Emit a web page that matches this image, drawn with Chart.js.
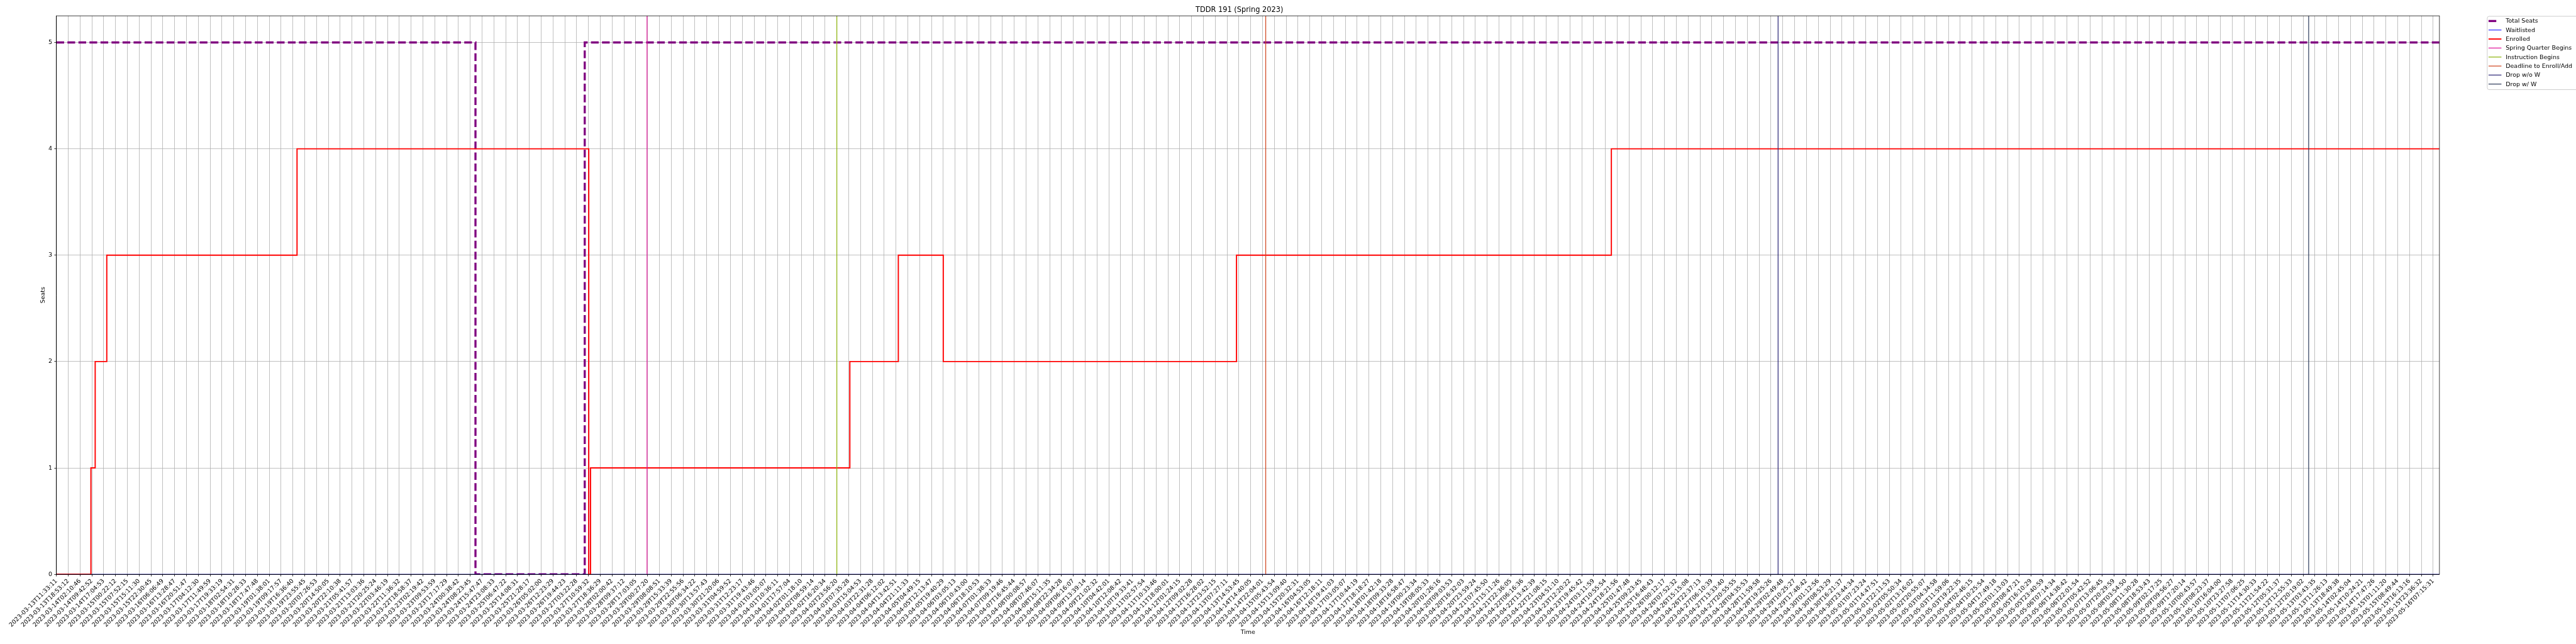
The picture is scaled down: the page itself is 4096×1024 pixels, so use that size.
<!DOCTYPE html>
<html lang="en">
<head>
    <meta charset="UTF-8">
    <title>TDDR 191 (Spring 2023)</title>
    <script src="https://cdn.jsdelivr.net/npm/chart.js"></script>
    <style>
        html, body { margin: 0; padding: 0; background: #fff; }
        #wrap { width: 4096px; height: 1024px; }
    </style>
</head>
<body>
    <div id="wrap"><canvas id="seatChart"></canvas></div>
    <script>
        // x tick labels, one per gridline (the axis is index based)
        const timeLabels = [
            '2023-03-13T11:33:11', '2023-03-13T18:53:12',
            '2023-03-14T02:10:46', '2023-03-14T09:42:52', '2023-03-14T17:04:53',
            '2023-03-15T00:22:12', '2023-03-15T07:52:15', '2023-03-15T15:11:30', '2023-03-15T22:30:45',
            '2023-03-16T06:06:49', '2023-03-16T13:28:47', '2023-03-16T20:51:47',
            '2023-03-17T04:12:30', '2023-03-17T11:49:59', '2023-03-17T19:33:19',
            '2023-03-18T02:54:31', '2023-03-18T10:28:33', '2023-03-18T17:47:48',
            '2023-03-19T01:38:01', '2023-03-19T09:17:57', '2023-03-19T16:36:40', '2023-03-19T23:55:45',
            '2023-03-20T07:26:53', '2023-03-20T14:50:05', '2023-03-20T22:10:38',
            '2023-03-21T05:41:57', '2023-03-21T13:03:36', '2023-03-21T20:25:24',
            '2023-03-22T03:46:19', '2023-03-22T11:36:32', '2023-03-22T18:58:37',
            '2023-03-23T02:19:42', '2023-03-23T09:53:59', '2023-03-23T17:17:29',
            '2023-03-24T00:38:42', '2023-03-24T08:23:45', '2023-03-24T15:47:47', '2023-03-24T23:08:33',
            '2023-03-25T06:47:22', '2023-03-25T14:08:31', '2023-03-25T21:28:17',
            '2023-03-26T05:02:00', '2023-03-26T12:23:29', '2023-03-26T19:44:23',
            '2023-03-27T03:22:28', '2023-03-27T10:59:32', '2023-03-27T18:36:29',
            '2023-03-28T02:00:42', '2023-03-28T09:37:12', '2023-03-28T17:03:05',
            '2023-03-29T00:27:20', '2023-03-29T08:08:51', '2023-03-29T15:33:39', '2023-03-29T22:55:56',
            '2023-03-30T06:34:22', '2023-03-30T13:57:43', '2023-03-30T21:20:06',
            '2023-03-31T04:59:52', '2023-03-31T12:23:17', '2023-03-31T19:43:46',
            '2023-04-01T03:05:07', '2023-04-01T10:36:11', '2023-04-01T17:57:04',
            '2023-04-02T01:18:10', '2023-04-02T08:59:14', '2023-04-02T16:20:34', '2023-04-02T23:56:20',
            '2023-04-03T07:35:28', '2023-04-03T15:04:53', '2023-04-03T22:31:28',
            '2023-04-04T06:12:02', '2023-04-04T13:42:51', '2023-04-04T21:11:33',
            '2023-04-05T04:49:15', '2023-04-05T12:13:47', '2023-04-05T19:40:29',
            '2023-04-06T03:05:13', '2023-04-06T10:43:00', '2023-04-06T18:10:53',
            '2023-04-07T01:38:33', '2023-04-07T09:19:46', '2023-04-07T16:45:44',
            '2023-04-08T00:08:57', '2023-04-08T07:46:07', '2023-04-08T15:11:35', '2023-04-08T22:34:28',
            '2023-04-09T06:16:07', '2023-04-09T13:39:14', '2023-04-09T21:02:32',
            '2023-04-10T04:42:01', '2023-04-10T12:08:42', '2023-04-10T19:33:41',
            '2023-04-11T02:57:54', '2023-04-11T10:33:46', '2023-04-11T18:00:01',
            '2023-04-12T01:24:15', '2023-04-12T09:02:28', '2023-04-12T16:28:02', '2023-04-12T23:52:15',
            '2023-04-13T07:27:11', '2023-04-13T14:53:45',
            '2023-04-14T14:40:05', '2023-04-14T22:04:01',
            '2023-04-15T05:43:54', '2023-04-15T13:09:40', '2023-04-15T20:32:31',
            '2023-04-16T04:53:05', '2023-04-16T12:18:11', '2023-04-16T19:41:03',
            '2023-04-17T03:05:07', '2023-04-17T10:44:19', '2023-04-17T18:18:27',
            '2023-04-18T01:42:18', '2023-04-18T09:33:28', '2023-04-18T16:58:47',
            '2023-04-19T00:23:34', '2023-04-19T08:05:33',
            '2023-04-20T01:26:16', '2023-04-20T09:03:53', '2023-04-20T16:32:03', '2023-04-20T23:59:24',
            '2023-04-21T07:45:50', '2023-04-21T15:11:26', '2023-04-21T22:36:05',
            '2023-04-22T06:16:36', '2023-04-22T13:42:39', '2023-04-22T21:08:15',
            '2023-04-23T04:51:10', '2023-04-23T12:20:22', '2023-04-23T19:45:42',
            '2023-04-24T03:11:59', '2023-04-24T10:55:54', '2023-04-24T18:21:56',
            '2023-04-25T01:47:48', '2023-04-25T09:23:45', '2023-04-25T16:48:43',
            '2023-04-26T00:12:17', '2023-04-26T07:52:32', '2023-04-26T15:15:08', '2023-04-26T22:37:13',
            '2023-04-27T06:10:39', '2023-04-27T13:33:40', '2023-04-27T20:55:55',
            '2023-04-28T04:35:53', '2023-04-28T11:59:58', '2023-04-28T19:25:26',
            '2023-04-29T02:49:48', '2023-04-29T10:25:27', '2023-04-29T17:48:42',
            '2023-04-30T01:12:56', '2023-04-30T08:53:29', '2023-04-30T16:21:37', '2023-04-30T23:44:34',
            '2023-05-01T07:23:24', '2023-05-01T14:47:51', '2023-05-01T22:11:53',
            '2023-05-02T05:50:34', '2023-05-02T13:16:02', '2023-05-02T20:55:07',
            '2023-05-03T04:34:58', '2023-05-03T11:59:06', '2023-05-03T19:22:35',
            '2023-05-04T02:46:15', '2023-05-04T10:25:54', '2023-05-04T17:49:18',
            '2023-05-05T01:13:03', '2023-05-05T08:47:21', '2023-05-05T16:10:29', '2023-05-05T23:40:59',
            '2023-05-06T07:14:34', '2023-05-06T14:38:42', '2023-05-06T22:01:54',
            '2023-05-07T05:42:52', '2023-05-07T13:06:45', '2023-05-07T20:29:59',
            '2023-05-08T03:54:50', '2023-05-08T11:30:28', '2023-05-08T18:53:43',
            '2023-05-09T02:17:25', '2023-05-09T09:56:27', '2023-05-09T17:20:14',
            '2023-05-10T00:43:57', '2023-05-10T08:23:37', '2023-05-10T16:04:00', '2023-05-10T23:27:58',
            '2023-05-11T07:06:25', '2023-05-11T14:30:33', '2023-05-11T21:54:22',
            '2023-05-12T05:31:37', '2023-05-12T12:55:33', '2023-05-12T20:19:02',
            '2023-05-13T03:43:35', '2023-05-13T11:26:13', '2023-05-13T18:49:38',
            '2023-05-14T02:45:04', '2023-05-14T10:24:21', '2023-05-14T17:47:26',
            '2023-05-15T01:11:20', '2023-05-15T08:49:44', '2023-05-15T16:13:16', '2023-05-15T23:36:32',
            '2023-05-16T07:15:31'
        ];
        const seatTicks = [0, 1, 2, 3, 4, 5];
        const xEnd = 201.53;   // last sample, a bit past the last tick
        const yTop = 5.25;

        // step series: from each x (in tick units) the value holds until the next x
        const totalSeatsX = [0, 35.44, 44.68, xEnd];
        const totalSeats  = [5, 0, 5, 5];
        const waitlistX = [0, xEnd];
        const waitlisted = [0, 0];
        const enrolledX = [0, 2.92, 3.28, 4.26, 20.35, 45.02, 45.17, 67.1, 71.2, 75.0, 99.8, 131.5, xEnd];
        const enrolled  = [0, 1, 2, 3, 4, 0, 1, 2, 3, 2, 3, 4, 4];

        // calendar markers
        const eventNames  = ['Spring Quarter Begins', 'Instruction Begins', 'Deadline to Enroll/Add', 'Drop w/o W', 'Drop w/ W'];
        const eventX      = [49.95, 66.0, 102.27, 145.6, 190.47];
        const eventColors = ['#e0169b', '#8db30c', '#d0451e', '#2e2878', '#2c3a5a'];

        const FONT = 'DejaVu Sans';
        const S = 0.682;   // reference -> window scale

        const toPoints = (xs, ys) => xs.map((x, i) => ({ x: x, y: ys[i] }));

        const datasets = [
            {
                label: 'Total Seats', data: toPoints(totalSeatsX, totalSeats),
                borderColor: '#800080', borderWidth: 4.9 * S, borderDash: [18 * S, 7.7 * S],
                stepped: 'before', pointRadius: 0, order: 10
            },
            {
                label: 'Waitlisted', data: toPoints(waitlistX, waitlisted),
                borderColor: '#0000ff', borderWidth: 1.5 * S,
                pointRadius: 0, order: 9
            },
            {
                label: 'Enrolled', data: toPoints(enrolledX, enrolled),
                borderColor: '#ff0000', borderWidth: 2.8 * S,
                stepped: 'before', pointRadius: 0, order: 8
            }
        ];
        eventNames.forEach((name, i) => {
            datasets.push({
                label: name,
                data: [{ x: eventX[i], y: 0 }, { x: eventX[i], y: yTop }],
                borderColor: eventColors[i], borderWidth: 1.8 * S,
                pointRadius: 0, order: 5 - i
            });
        });

        // outer frame (all four spines)
        const framePlugin = {
            id: 'frame',
            afterDatasetsDraw(chart) {
                const { ctx, chartArea: a } = chart;
                ctx.save();
                ctx.strokeStyle = '#000';
                ctx.lineWidth = 1.1 * S;
                ctx.strokeRect(a.left, a.top, a.right - a.left, a.bottom - a.top);
                ctx.restore();
            }
        };

        // legend outside the axes, upper left of the free strip
        const legendPlugin = {
            id: 'sideLegend',
            afterDraw(chart) {
                const ctx = chart.ctx;
                const boxX = 5799 * S, boxY = 38 * S, boxH = 171 * S;
                ctx.save();
                ctx.fillStyle = 'rgba(255,255,255,0.8)';
                ctx.strokeStyle = '#cccccc';
                ctx.lineWidth = 1;
                ctx.beginPath();
                ctx.roundRect(boxX, boxY, 400, boxH, 3);
                ctx.fill();
                ctx.stroke();
                ctx.font = (13.9 * S) + 'px "' + FONT + '"';
                ctx.textBaseline = 'middle';
                ctx.fillStyle = '#000';
                chart.data.datasets.forEach((ds, i) => {
                    const y = (49 + 21 * i) * S;
                    const x0 = 5802 * S, x1 = 5832 * S;
                    ctx.save();
                    ctx.strokeStyle = ds.borderColor;
                    ctx.lineWidth = ds.borderWidth;
                    // dashed handle shows a single dash, as in the reference
                    ctx.setLineDash(ds.borderDash ? [ds.borderDash[0], 100] : []);
                    ctx.beginPath();
                    ctx.moveTo(x0, y);
                    ctx.lineTo(x1, y);
                    ctx.stroke();
                    ctx.restore();
                    ctx.fillText(ds.label, 5842 * S, y + 0.5);
                });
                ctx.restore();
            }
        };

        const tickFont = { family: FONT, size: 13.9 * S };

        new Chart(document.getElementById('seatChart'), {
            type: 'line',
            data: { datasets: datasets },
            options: {
                responsive: true,
                maintainAspectRatio: false,
                animation: false,
                events: [],
                layout: { padding: { left: 62.5, right: 4096 - 5687.5 * S, top: 0, bottom: 13 } },
                plugins: {
                    legend: { display: false },
                    tooltip: { enabled: false },
                    title: {
                        display: true, text: 'TDDR 191 (Spring 2023)', color: '#000',
                        font: { family: FONT, size: 16.7 * S, weight: 'normal' },
                        padding: { top: 9, bottom: 2.5 }
                    }
                },
                scales: {
                    x: {
                        type: 'linear', min: 0, max: xEnd,
                        afterBuildTicks: s => { s.ticks = timeLabels.map((_, i) => ({ value: i })); },
                        afterFit: s => { s.height = 1024 - 13 - 1339 * S; },
                        ticks: {
                            autoSkip: false, minRotation: 45, maxRotation: 45, padding: 2,
                            color: '#000', font: tickFont,
                            callback: v => timeLabels[v]
                        },
                        grid: { color: '#b0b0b0', lineWidth: 0.8, tickColor: '#000', tickLength: 4.9 * S, tickWidth: 0.8 },
                        border: { color: '#000', width: 1 },
                        title: { display: true, text: 'Time', color: '#000', font: tickFont, padding: 0 }
                    },
                    y: {
                        min: 0, max: yTop,
                        afterBuildTicks: s => { s.ticks = seatTicks.map(v => ({ value: v })); },
                        afterFit: s => { s.width = 131.5 * S - 62.5; },
                        ticks: { padding: 4.9 * S, color: '#000', font: tickFont },
                        grid: { color: '#b0b0b0', lineWidth: 0.8, tickColor: '#000', tickLength: 4.9 * S, tickWidth: 0.8 },
                        border: { color: '#000', width: 1 },
                        title: { display: true, text: 'Seats', color: '#000', font: tickFont, padding: 0 }
                    }
                }
            },
            plugins: [framePlugin, legendPlugin]
        });
    </script>
</body>
</html>
